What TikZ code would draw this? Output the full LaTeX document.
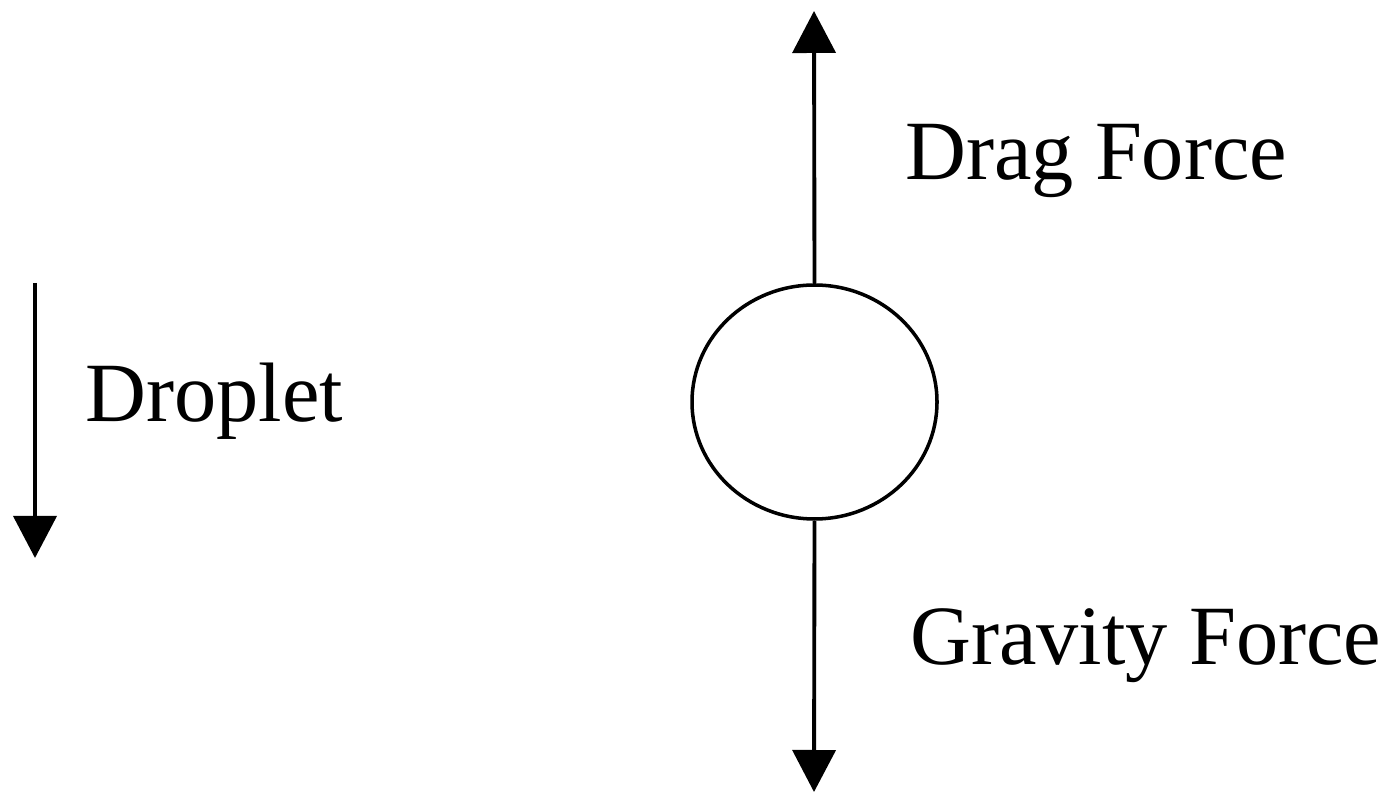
\documentclass[tikz,border=0pt]{standalone}
\usepackage{fontspec}
\setmainfont{Liberation Serif}
\usetikzlibrary{arrows.meta,shapes.geometric}
\begin{document}
\begin{tikzpicture}
\tikzset{
  force/.style={line width=2.2pt, -{Triangle[width=0.86cm,length=0.84cm]}},
  lbl/.style={anchor=base west, inner sep=0pt, font=\fontsize{48}{56}\selectfont},
  drop/.style={draw, line width=2pt, ellipse, minimum width=4.9cm, minimum height=4.68cm, inner sep=0pt}
}
\useasboundingbox (0,0) rectangle (27.8,15.88);
\node[drop] (d) at (16.29,7.84) {};
\coordinate (top) at (16.28,15.66);
\coordinate (bot) at (16.28,0.04);
\coordinate (ls) at (0.7,10.22);
\coordinate (le) at (0.7,4.72);
\draw[force] (d.north) -- (top);
\draw[force] (d.south) -- (bot);
\draw[force] (ls) -- (le);
\node[lbl] (drag) at (18.1,12.28) {Drag Force};
\node[lbl] (grav) at (18.2,2.58) {Gravity Force};
\node[lbl] (dl) at (1.7,7.44) {Droplet};
\end{tikzpicture}
\end{document}
